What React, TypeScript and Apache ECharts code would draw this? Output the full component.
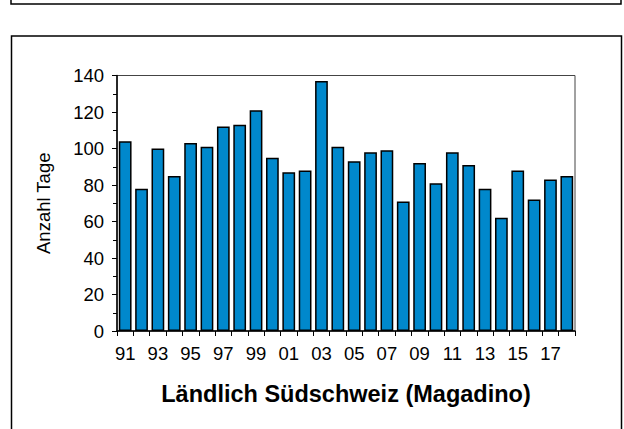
import React, { useEffect, useRef } from "react";
import * as echarts from "echarts";

const years: string[] = [
  "91", "92", "93", "94", "95", "96", "97", "98", "99", "00",
  "01", "02", "03", "04", "05", "06", "07", "08", "09", "10",
  "11", "12", "13", "14", "15", "16", "17", "18",
];
const days: number[] = [
  104, 78, 100, 85, 103, 101, 112, 113, 121, 95,
  87, 88, 137, 101, 93, 98, 99, 71, 92, 81,
  98, 91, 78, 62, 88, 72, 83, 85,
];
const yAxisTitle = "Anzahl Tage";
const xAxisTitle = "Ländlich Südschweiz (Magadino)";

const FONT = "Liberation Sans, Arial, sans-serif";

export default function App() {
  const ref = useRef<HTMLDivElement>(null);
  useEffect(() => {
    if (!ref.current) return;
    const chart = echarts.init(ref.current, undefined, { renderer: "svg" });
    chart.setOption({
      animation: false,
      backgroundColor: "#ffffff",
      graphic: [
        {
          type: "rect",
          shape: { x: 11, y: -20, width: 610, height: 24 },
          style: { fill: "none", stroke: "#000", lineWidth: 1.5 },
          z: 10,
        },
        {
          type: "rect",
          shape: { x: 11.5, y: 36, width: 610, height: 420 },
          style: { fill: "none", stroke: "#000", lineWidth: 1.5 },
          z: 10,
        },
      ],
      grid: {
        left: 117,
        right: 49,
        top: 75.5,
        bottom: 98,
        show: true,
        borderColor: "#444",
        borderWidth: 1,
      },
      xAxis: {
        type: "category",
        data: years,
        boundaryGap: true,
        name: xAxisTitle,
        nameLocation: "middle",
        nameGap: 51,
        nameTextStyle: { fontFamily: FONT, fontSize: 23.5, fontWeight: "bold", color: "#000" },
        axisLine: { lineStyle: { color: "#000", width: 1.5 } },
        axisTick: { show: true, interval: 0, length: 5, lineStyle: { color: "#000", width: 1 } },
        axisLabel: { interval: 1, fontFamily: FONT, fontSize: 18.5, color: "#000", margin: 13 },
      },
      yAxis: {
        type: "value",
        min: 0,
        max: 140,
        interval: 20,
        name: yAxisTitle,
        nameLocation: "middle",
        nameRotate: 90,
        nameGap: 64,
        nameTextStyle: { fontFamily: FONT, fontSize: 18.5, color: "#000" },
        axisLine: { show: true, lineStyle: { color: "#000", width: 1.5 } },
        axisTick: { show: true, length: 5, lineStyle: { color: "#000", width: 1 } },
        minorTick: { show: true, splitNumber: 2, length: 4, lineStyle: { color: "#000", width: 1 } },
        splitLine: { show: false },
        axisLabel: { fontFamily: FONT, fontSize: 18.5, color: "#000", margin: 13 },
      },
      series: [
        {
          type: "bar",
          data: days,
          barCategoryGap: "22%",
          itemStyle: { color: "#0088CC", borderColor: "#000", borderWidth: 1.5 },
        },
      ],
    });
    return () => chart.dispose();
  }, []);
  return (
    <div
      ref={ref}
      style={{ position: "fixed", left: 0, top: 0, width: 624, height: 429 }}
    />
  );
}
